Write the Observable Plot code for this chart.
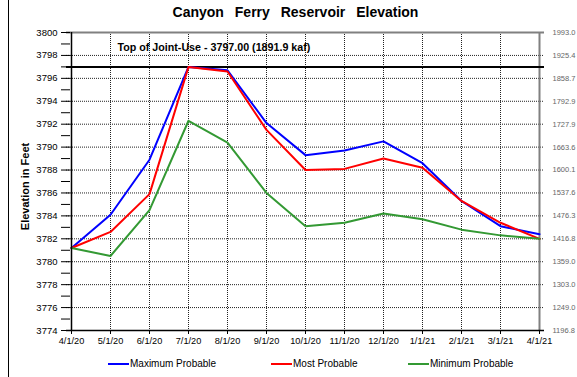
<!DOCTYPE html>
<html>
<head>
<meta charset="utf-8">
<script src="https://cdn.jsdelivr.net/npm/d3@7"></script>
<script src="https://cdn.jsdelivr.net/npm/@observablehq/plot@0.6"></script>
<style>
  html, body { margin: 0; padding: 0; background: #fff; }
  #wrap { position: relative; width: 577px; height: 377px; overflow: hidden; font-family: "Liberation Sans", Arial, sans-serif; }
  #edge { position: absolute; left: 8px; top: 0; width: 1px; height: 377px; background: #000; }
  #title { height: 24px; line-height: 24px; text-align: center; font-weight: bold; font-size: 14px; word-spacing: 7px; color: #000; padding-left: 14px; padding-top: 0; }
  #chart svg { display: block; }
  #legend { position: relative; height: 25px; font-size: 10px; color: #000; }
  .item { position: absolute; top: 6px; display: flex; align-items: center; }
  .sw { width: 21px; height: 2px; margin-right: 1px; }
</style>
</head>
<body>
<div id="wrap">
  <div id="edge"></div>
  <div id="title">Canyon Ferry Reservoir Elevation</div>
  <div id="chart"></div>
  <div id="legend"></div>
</div>
<script>
const months = ["4/1/20","5/1/20","6/1/20","7/1/20","8/1/20","9/1/20","10/1/20","11/1/20","12/1/20","1/1/21","2/1/21","3/1/21","4/1/21"];
const maxProbable  = [3781.2, 3784.1, 3788.9, 3797.0, 3796.7, 3792.1, 3789.3, 3789.7, 3790.5, 3788.6, 3785.3, 3783.1, 3782.4];
const mostProbable = [3781.2, 3782.6, 3785.9, 3797.0, 3796.6, 3791.5, 3788.0, 3788.1, 3789.0, 3788.2, 3785.3, 3783.4, 3782.0];
const minProbable  = [3781.2, 3780.5, 3784.5, 3792.3, 3790.4, 3786.0, 3783.1, 3783.4, 3784.2, 3783.7, 3782.8, 3782.3, 3782.0];
const seriesNames = ["Maximum Probable", "Most Probable", "Minimum Probable"];
const seriesColors = ["#0000ff", "#ff0000", "#339933"];
const yTicks = d3.range(3774, 3801, 2);
const yMinorTicks = d3.range(3774, 3801, 1);
const rightLabels = ["1196.8","1249.0","1303.0","1359.0","1416.8","1476.3","1537.6","1600.1","1663.6","1727.9","1792.9","1858.7","1925.4","1993.0"];
const jointUse = 3797;
const jointUseLabel = "Top of Joint-Use - 3797.00 (1891.9 kaf)";
const jointUseLabelAt = {month: "5/1/20", value: 3798.7};
const yLabel = "Elevation in Feet";

const seriesValues = [maxProbable, mostProbable, minProbable];
const rows = [];
seriesValues.forEach((vals, s) => vals.forEach((v, i) => rows.push({month: months[i], value: v, series: seriesNames[s]})));

const font = '"Liberation Sans", Arial, sans-serif';
const chart = Plot.plot({
  width: 577,
  height: 328,
  marginTop: 8,
  marginBottom: 22,
  marginLeft: 66,
  marginRight: 33,
  style: {fontFamily: font, fontSize: "9.5px", background: "transparent", color: "#000"},
  x: {type: "point", domain: months, padding: 0, axis: null},
  y: {domain: [3774, 3800], axis: null},
  marks: [
    Plot.gridY(yTicks.slice(1, -1), {stroke: "#222", strokeOpacity: 1, strokeDasharray: "1,1"}),
    Plot.gridX(months.slice(1, -1), {stroke: "#222", strokeOpacity: 1, strokeDasharray: "1,1"}),
    Plot.ruleY([yTicks[yTicks.length - 1]], {stroke: "#808080", strokeWidth: 2}),
    Plot.ruleX([months[months.length - 1]], {stroke: "#808080", strokeWidth: 2}),
    Plot.ruleY([jointUse], {stroke: "#000", strokeWidth: 2}),
    Plot.text([jointUseLabelAt], {x: "month", y: "value", text: () => jointUseLabel, dx: 7, textAnchor: "start", fontWeight: "bold", fontSize: 10.7, fill: "#000"}),
    Plot.lineY(rows, {x: "month", y: "value", z: "series", stroke: d => seriesColors[seriesNames.indexOf(d.series)], strokeWidth: 2}),
    Plot.ruleX([months[0]], {stroke: "#000", strokeWidth: 1.5}),
    Plot.ruleY([yTicks[0]], {stroke: "#000", strokeWidth: 1.5}),
    Plot.axisY(yMinorTicks, {anchor: "left", label: null, tickSize: 9, dx: 4, tickFormat: () => "", stroke: "#000"}),
    Plot.axisY(yTicks, {anchor: "left", label: null, tickSize: 0, tickPadding: 9, fontSize: 9.5, fill: "#000", tickFormat: d => String(d)}),
    Plot.axisY(yTicks, {anchor: "right", label: null, tickSize: 0, tickPadding: 8, fontSize: 7.5, fill: "#666", tickFormat: d => rightLabels[yTicks.indexOf(d)]}),
    Plot.axisX(months, {anchor: "bottom", label: null, tickSize: 4, tickPadding: 3, fontSize: 9.2, fill: "#000", stroke: "#000"}),
    Plot.text([yLabel], {frameAnchor: "left", textAnchor: "middle", rotate: -90, dx: -41, dy: 5, fontWeight: "bold", fontSize: 11, fill: "#000"})
  ]
});
document.getElementById("chart").appendChild(chart);

const legend = document.getElementById("legend");
const starts = [108, 271, 408];
seriesNames.forEach((name, i) => {
  const it = document.createElement("div");
  it.className = "item";
  it.style.left = starts[i] + "px";
  it.innerHTML = `<span class="sw" style="background:${seriesColors[i]}"></span><span>${name}</span>`;
  legend.appendChild(it);
});
</script>
</body>
</html>
